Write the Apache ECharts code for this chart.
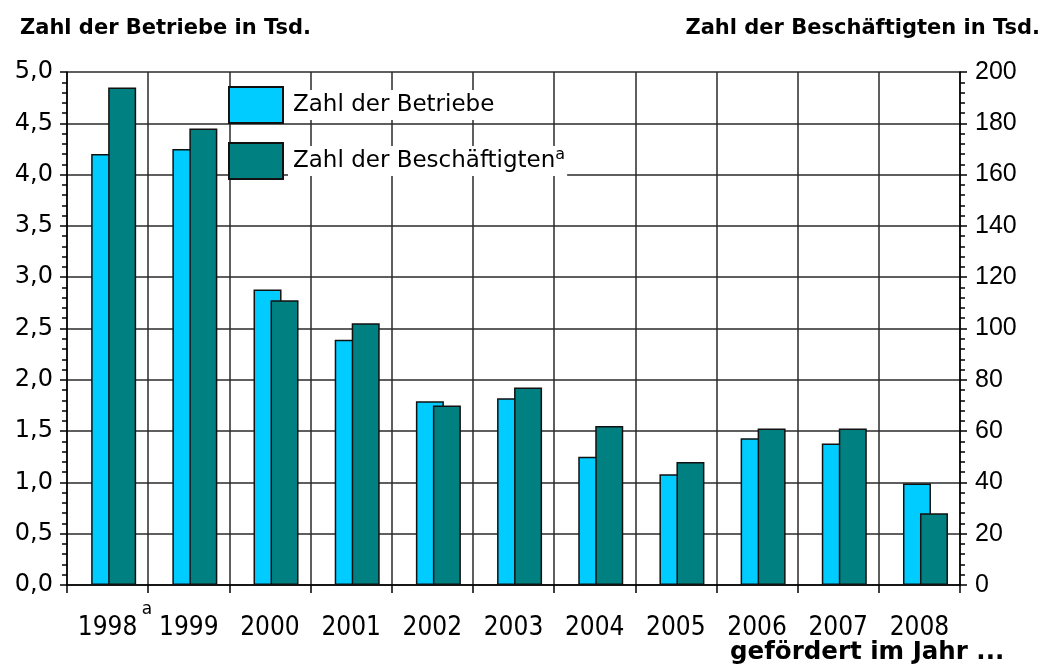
<!DOCTYPE html>
<html lang="de">
  <head>
    <meta charset="UTF-8" />
    <title>Betriebe und Beschäftigte</title>
    <script src="https://cdn.jsdelivr.net/npm/echarts@6/dist/echarts.min.js"></script>
  </head>

  <body style="margin: 0; background: #fff">
    <div id="main" style="width: 1045px; height: 666px"></div>

    <script>
      // Daten
      var jahre = ["1998", "1999", "2000", "2001", "2002", "2003", "2004", "2005", "2006", "2007", "2008"];
      var betriebe = [4.2, 4.25, 2.88, 2.39, 1.79, 1.82, 1.25, 1.08, 1.43, 1.38, 0.99];
      var beschaeftigte = [194, 178, 111, 102, 70, 77, 62, 48, 61, 61, 28];
      var linksTicks = [0, 5, 0.5]; // min, max, interval
      var rechtsTicks = [0, 200, 20];

      var font = "DejaVu Sans";
      var gridLine = { color: "#2a2a2a", width: 1.5 };
      var gap = "-39.3%";

      var chart = echarts.init(document.getElementById("main"));
      var option = {
        backgroundColor: "#fff",
        animation: false,
        grid: { left: 67, right: 85, top: 72, bottom: 81, outerBoundsMode: "none" },
        legend: {
          data: ["Zahl der Betriebe", "Zahl der Beschäftigten"],
          orient: "vertical",
          left: 228,
          top: 86,
          padding: 0,
          itemWidth: 54,
          itemHeight: 36,
          itemGap: 18,
          icon: "rect",
          formatter: function (name) {
            if (name === "Zahl der Beschäftigten") return "{n|" + name + "}{s|a}";
            return "{n|" + name + "}";
          },
          textStyle: {
            backgroundColor: "#fff",
            padding: [1, 2, 1, 5],
            rich: {
              n: { fontFamily: font, fontSize: 23, color: "#000", lineHeight: 28 },
              s: { fontFamily: font, fontSize: 16, color: "#000", verticalAlign: "top", lineHeight: 22 },
            },
          },
        },
        xAxis: {
          type: "category",
          data: jahre,
          boundaryGap: true,
          axisLine: { lineStyle: { color: "#000", width: 1.5 } },
          axisTick: { show: true, alignWithLabel: false, length: 8, lineStyle: { color: "#000", width: 1.5 } },
          axisLabel: { fontFamily: "Liberation Sans Narrow, DejaVu Sans Condensed", fontSize: 26, color: "#000", margin: 30 },
          splitLine: { show: true, lineStyle: gridLine },
        },
        yAxis: [
          {
            type: "value",
            min: linksTicks[0],
            max: linksTicks[1],
            interval: linksTicks[2],
            axisLine: { show: true, lineStyle: { color: "#000", width: 1.5 } },
            axisTick: { show: true, length: 7, lineStyle: { color: "#000", width: 1.5 } },
            minorTick: { show: true, splitNumber: 5, length: 5, lineStyle: { color: "#000", width: 1.5 } },
            axisLabel: {
              fontFamily: font,
              fontSize: 24,
              color: "#000",
              margin: 14,
              formatter: function (v) {
                return v.toFixed(1).replace(".", ",");
              },
            },
            splitLine: { show: true, lineStyle: gridLine },
          },
          {
            type: "value",
            position: "right",
            min: rechtsTicks[0],
            max: rechtsTicks[1],
            interval: rechtsTicks[2],
            axisLine: { show: true, lineStyle: { color: "#000", width: 1.5 } },
            axisTick: { show: true, length: 7, lineStyle: { color: "#000", width: 1.5 } },
            minorTick: { show: true, splitNumber: 5, length: 5, lineStyle: { color: "#000", width: 1.5 } },
            axisLabel: { fontFamily: "Liberation Sans", fontSize: 25, color: "#000", margin: 15 },
            splitLine: { show: false },
          },
        ],
        series: [
          // leerer Platzhalter, verschiebt die Balkengruppe nach rechts wie im Original
          { name: "_platz", type: "bar", data: [], barWidth: 20, barGap: gap, silent: true },
          {
            name: "Zahl der Betriebe",
            type: "bar",
            data: betriebe,
            barWidth: 28,
            barGap: gap,
            itemStyle: { color: "#00CCFF", borderColor: "#111", borderWidth: 1.5 },
          },
          {
            name: "Zahl der Beschäftigten",
            type: "bar",
            yAxisIndex: 1,
            data: beschaeftigte,
            barWidth: 28,
            barGap: gap,
            itemStyle: { color: "#008080", borderColor: "#111", borderWidth: 1.5 },
          },
        ],
        graphic: [
          {
            type: "text",
            x: 20,
            y: 29,
            style: { text: "Zahl der Betriebe in Tsd.", fontFamily: font, fontSize: 21, fontWeight: "bold", fill: "#000", verticalAlign: "middle" },
          },
          {
            type: "text",
            x: 1040,
            y: 29,
            style: { text: "Zahl der Beschäftigten in Tsd.", fontFamily: font, fontSize: 21, fontWeight: "bold", fill: "#000", align: "right", verticalAlign: "middle" },
          },
          {
            type: "text",
            x: 147,
            y: 610,
            style: { text: "a", fontFamily: font, fontSize: 17, fill: "#000", align: "center", verticalAlign: "middle" },
          },
          {
            type: "text",
            x: 730,
            y: 653,
            style: { text: "gefördert im Jahr ...", fontFamily: font, fontSize: 24.5, fontWeight: "bold", fill: "#000", verticalAlign: "middle" },
          },
        ],
      };
      chart.setOption(option);
    </script>
  </body>
</html>
